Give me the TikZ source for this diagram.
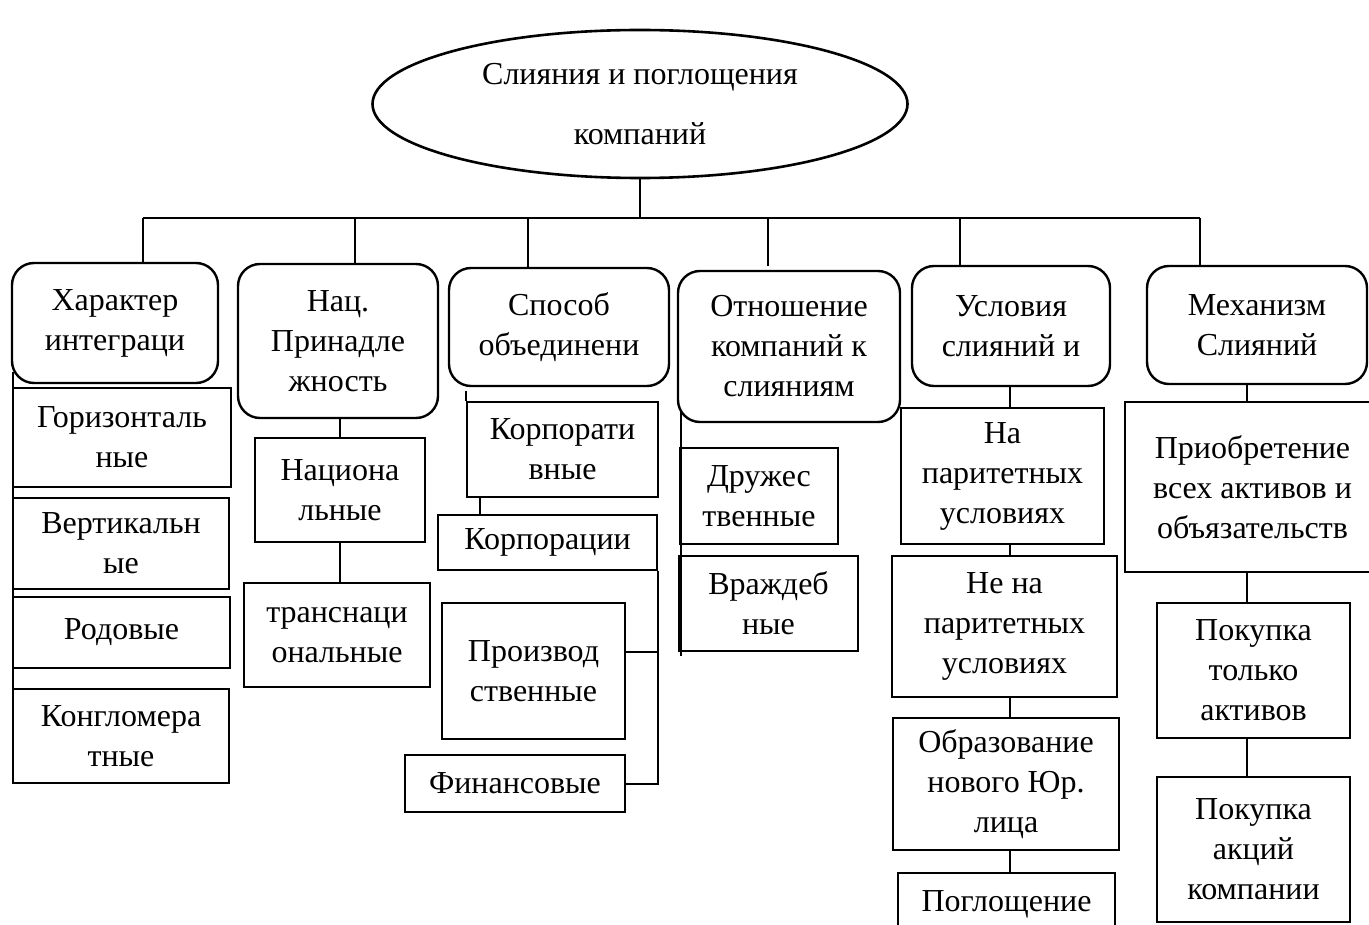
\documentclass[tikz,border=0pt]{standalone}
\usepackage{fontspec}
\setmainfont{Liberation Serif}
\usetikzlibrary{shapes.geometric}

\begin{document}
\begin{tikzpicture}[x=0.5pt,y=-0.5pt,
  every node/.style={align=center,inner sep=0pt,font=\fontsize{16}{20}\selectfont},
  kind/.style={draw,line width=1.2pt,rounded corners=11pt},
  leaf/.style={draw,line width=1.2pt},
  link/.style={line width=1pt}]
\useasboundingbox (0,0) rectangle (1369,925);

\node[draw,ellipse,line width=1.3pt,minimum width=267.5pt,minimum height=74pt,font=\fontsize{16}{30}\selectfont] (root) at (640,104) {Слияния и поглощения\\компаний};

% first level
\node[kind,minimum width=103pt,minimum height=60pt] (k1) at (115,323) {Характер\\интеграци};
\node[kind,minimum width=100pt,minimum height=77pt] (k2) at (338,341) {Нац.\\Принадле\\жность};
\node[kind,minimum width=110pt,minimum height=59pt] (k3) at (559,327) {Способ\\объединени};
\node[kind,minimum width=111pt,minimum height=75.5pt] (k4) at (789,346.5) {Отношение\\компаний к\\слияниям};
\node[kind,minimum width=99pt,minimum height=60pt] (k5) at (1011,326) {Условия\\слияний и};
\node[kind,minimum width=110pt,minimum height=59pt] (k6) at (1257,325) {Механизм\\Слияний};

% second level
\node[leaf,minimum width=109pt,minimum height=49.5pt] (g1) at (122,437.5) {Горизонталь\\ные};
\node[leaf,minimum width=108pt,minimum height=45.5pt] (g2) at (121,543.5) {Вертикальн\\ые};
\node[leaf,minimum width=108.5pt,minimum height=35.5pt] (g3) at (121.5,632.5) {Родовые};
\node[leaf,minimum width=108pt,minimum height=47pt] (g4) at (121,736) {Конгломера\\тные};

\node[leaf,minimum width=85pt,minimum height=52pt] (n1) at (340,490) {Национа\\льные};
\node[leaf,minimum width=93pt,minimum height=52pt] (n2) at (337,635) {транснаци\\ональные};

\node[leaf,minimum width=95.5pt,minimum height=47.5pt] (s1) at (562.5,449.5) {Корпорати\\вные};
\node[leaf,minimum width=109.5pt,minimum height=27.5pt] (s2) at (547.5,542.5) {Корпорации};
\node[leaf,minimum width=91.5pt,minimum height=68pt] (s3) at (533.5,671) {Производ\\ственные};
\node[leaf,minimum width=110pt,minimum height=28.5pt] (s4) at (515,783.5) {Финансовые};

\node[leaf,minimum width=79pt,minimum height=48pt] (o1) at (759,496) {Дружес\\твенные};
\node[leaf,minimum width=89.5pt,minimum height=47.5pt] (o2) at (768.5,603.5) {Враждеб\\ные};

\node[leaf,minimum width=101.5pt,minimum height=68pt] (u1) at (1002.5,476) {На\\паритетных\\условиях};
\node[leaf,minimum width=112.5pt,minimum height=70.5pt] (u2) at (1004.5,626.5) {Не на\\паритетных\\условиях};
\node[leaf,minimum width=113pt,minimum height=66pt] (u3) at (1006,784) {Образование\\нового Юр.\\лица};
\node[leaf,minimum width=108.5pt,minimum height=31pt] (u4) at (1006.5,904) {Поглощение};

\node[leaf,minimum width=127.5pt,minimum height=85pt] (m1) at (1252.5,487) {Приобретение\\всех активов и\\объязательств};
\node[leaf,minimum width=96.5pt,minimum height=67.5pt] (m2) at (1253.5,670.5) {Покупка\\только\\активов};
\node[leaf,minimum width=96.5pt,minimum height=72.5pt] (m3) at (1253.5,849.5) {Покупка\\акций\\компании};

% connectors
\coordinate (bus) at (640,218);
\coordinate (k4top) at (768,266);
\draw[link] (root.south) -- (bus);
\draw[link,line width=1.4pt] (bus -| 143,0) -- (bus -| 1200,0);
\foreach \kid/\xx in {k1/143,k2/355,k3/528,k5/960,k6/1200}
  \draw[link] (bus -| \xx,0) -- (\kid.north -| \xx,0);
\draw[link] (bus -| k4top) -- (k4top);

\draw[link] (k1.south west) ++(1pt,6pt) coordinate (c1) -- (c1 |- g4.north);

\draw[link] (n1.north) -- (n1.north |- k2.south);
\draw[link] (n1.south) -- (n1.south |- n2.north);

\draw[link] (s1.north west) ++(0,5pt) coordinate (c3) -- (c3 |- s1.north);
\draw[link] (s1.south -| 480,0) -- (s2.north -| 480,0);
\draw[link] (s2.south east) -- (s2.south east |- s4.east) -- (s4.east);
\draw[link] (s3.east |- 0,652) -- (s2.south east |- 0,652);

\draw[link] (o1.north west |- k4.south) ++(1pt,6pt) coordinate (c4) -- (c4 |- o2.south) -- ++(0,-2pt);

\foreach \a/\b in {k5/u1,u1/u2,u2/u3,u3/u4}
  \draw[link] (\a.south -| 1010,0) -- (\b.north -| 1010,0);
\foreach \a/\b in {k6/m1,m1/m2,m2/m3}
  \draw[link] (\a.south -| 1247,0) -- (\b.north -| 1247,0);
\end{tikzpicture}
\end{document}
